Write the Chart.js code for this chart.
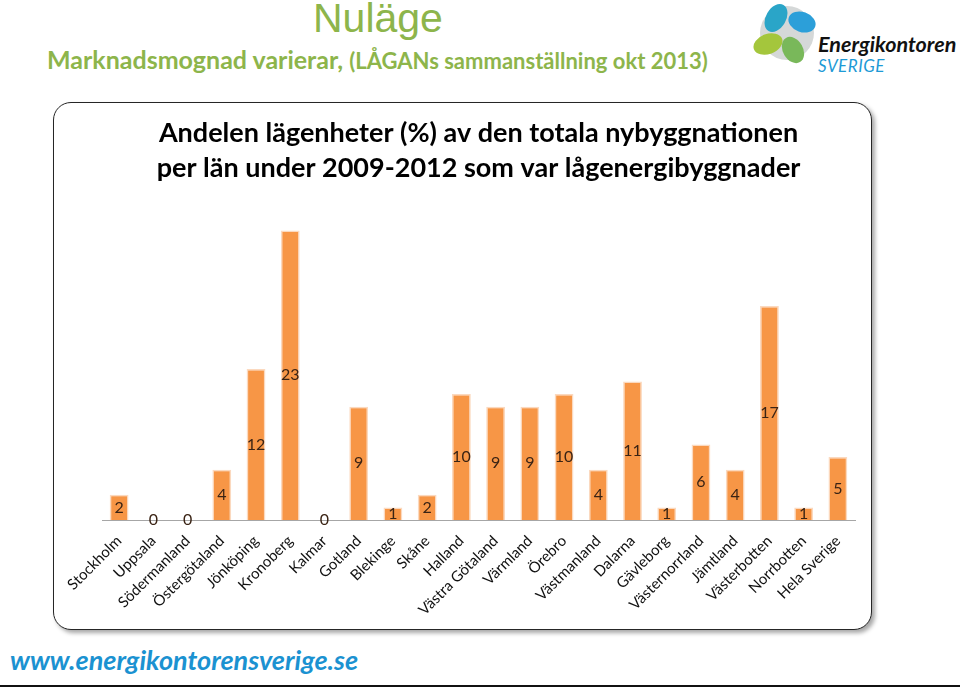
<!DOCTYPE html>
<html>
<head>
<meta charset="utf-8">
<script src="https://cdn.jsdelivr.net/npm/chart.js@4.4.1/dist/chart.umd.min.js"></script>
<style>
  html, body { margin: 0; padding: 0; background: #fff; }
  body { width: 960px; height: 688px; position: relative; overflow: hidden; font-family: Lato, sans-serif; }
  .head { position: absolute; left: 313px; top: -5px; font: 41px "Liberation Sans", Arial, sans-serif; color: #8db54b; }
  .sub { position: absolute; left: 47px; top: 44px; font-weight: bold; color: #8db54b; white-space: nowrap; }
  .sub .a { font-size: 25px; }
  .sub .b { font-size: 22px; }
  .logo { position: absolute; left: 748px; top: 0; }
  .brand { position: absolute; left: 818px; top: 31px; font: italic bold 21.5px Lato, sans-serif; color: #111; }
  .sverige { position: absolute; left: 818px; top: 55px; font: italic 17px Lato, sans-serif; color: #1d9ad6; letter-spacing: 0.5px; }
  .box { position: absolute; left: 53px; top: 102px; width: 817px; height: 526px; border: 1.5px solid #262626;
         border-radius: 18px; box-shadow: 3px 3px 4px rgba(0,0,0,0.35); background: #fff; }
  #chart { position: absolute; left: 53px; top: 102px; }
  .url { position: absolute; left: 10px; top: 643px; font: italic bold 27px Lato, sans-serif; color: #1b92d1; }
  .rule { position: absolute; left: 0; top: 685px; width: 960px; height: 2px; background: #111; }
</style>
</head>
<body>
<div class="head">Nuläge</div>
<div class="sub"><span class="a">Marknadsmognad varierar, </span><span class="b">(LÅGANs sammanställning okt 2013)</span></div>
<svg class="logo" width="72" height="66" viewBox="0 0 72 66">
  <circle cx="39" cy="33" r="27" fill="#d5d8d8"/>
  <ellipse cx="28" cy="18" rx="15" ry="10" transform="rotate(-60 28 18)" fill="#2aa5c8"/>
  <ellipse cx="54" cy="22" rx="14" ry="10" transform="rotate(20 54 22)" fill="#2c9fd9"/>
  <ellipse cx="20" cy="44" rx="15" ry="10" transform="rotate(-20 20 44)" fill="#a4c63c"/>
  <ellipse cx="45" cy="50" rx="14" ry="10" transform="rotate(60 45 50)" fill="#79b85a"/>
</svg>
<div class="brand">Energikontoren</div>
<div class="sverige">SVERIGE</div>
<div class="box"></div>
<canvas id="chart" width="819" height="528"></canvas>
<div class="url">www.energikontorensverige.se</div>
<div class="rule"></div>

<script>
// Andel lågenergibyggnader per län (%), 2009-2012
const lan = [
  'Stockholm', 'Uppsala', 'Södermanland', 'Östergötaland', 'Jönköping', 'Kronoberg',
  'Kalmar', 'Gotland', 'Blekinge', 'Skåne', 'Halland', 'Västra Götaland', 'Värmland',
  'Örebro', 'Västmanland', 'Dalarna', 'Gävleborg', 'Västernorrland', 'Jämtland',
  'Västerbotten', 'Norrbotten', 'Hela Sverige'
];
const andel = [2, 0, 0, 4, 12, 23, 0, 9, 1, 2, 10, 9, 9, 10, 4, 11, 1, 6, 4, 17, 1, 5];
const titleLines = [
  'Andelen lägenheter (%) av den totala nybyggnationen',
  'per län under 2009-2012 som var lågenergibyggnader'
];

// values written in the middle of each bar
const midLabels = {
  id: 'midLabels',
  afterDatasetsDraw(chart) {
    const ctx = chart.ctx;
    const meta = chart.getDatasetMeta(0);
    ctx.save();
    ctx.font = '16px Lato, sans-serif';
    ctx.fillStyle = '#3a2314';
    ctx.textAlign = 'center';
    ctx.textBaseline = 'middle';
    meta.data.forEach((bar, i) => {
      ctx.fillText(String(andel[i]), bar.x, (bar.y + bar.base) / 2);
    });
    ctx.restore();
  }
};

new Chart(document.getElementById('chart'), {
  type: 'bar',
  data: {
    labels: lan,
    datasets: [{
      data: andel,
      backgroundColor: '#f79646',
      borderColor: '#fbd9bf',
      borderWidth: 1.5,
      barPercentage: 0.55,
      categoryPercentage: 1
    }]
  },
  options: {
    responsive: false,
    animation: false,
    layout: { padding: { left: 49, right: 17, bottom: 8 } },
    plugins: {
      legend: { display: false },
      tooltip: { enabled: false },
      title: {
        display: true,
        text: titleLines,
        color: '#000',
        font: { family: 'Lato, sans-serif', size: 27, weight: 'bold', lineHeight: 1.3 },
        padding: { top: 14, bottom: 19 }
      }
    },
    scales: {
      y: { display: false, min: 0, max: 25 },
      x: {
        grid: { display: false, drawTicks: false },
        border: { color: '#a6a6a6', width: 1 },
        ticks: {
          color: '#111',
          font: { family: 'Lato, sans-serif', size: 15 },
          minRotation: 45, maxRotation: 45,
          autoSkip: false, padding: 12
        },
        afterFit: scale => { scale.height = 102; }
      }
    }
  },
  plugins: [midLabels]
});
</script>
</body>
</html>
